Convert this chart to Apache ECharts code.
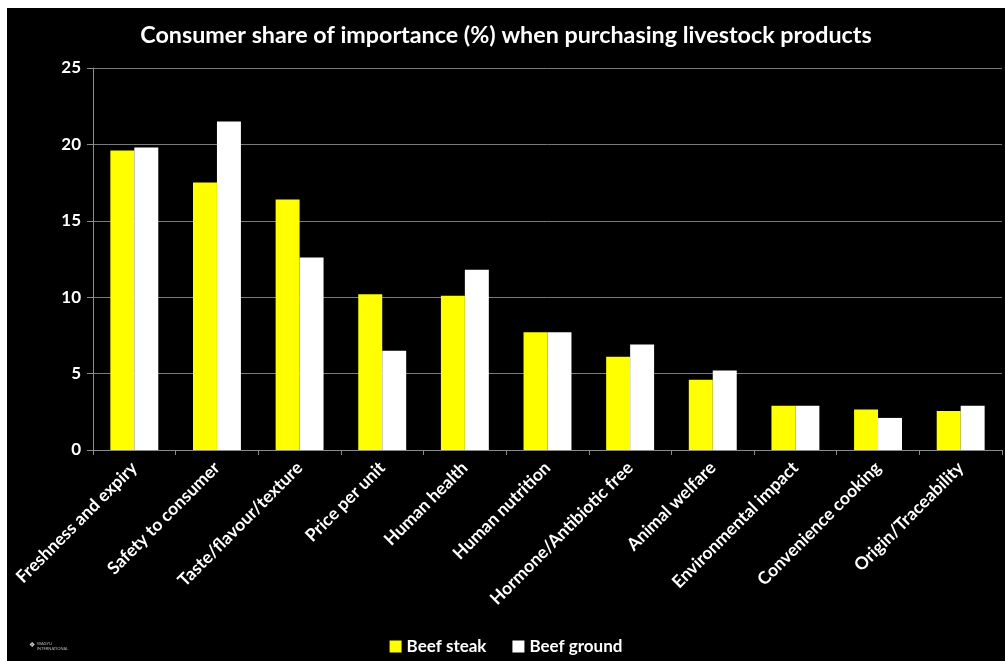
<!DOCTYPE html>
<html>
<head>
<meta charset="utf-8">
<script src="https://cdn.jsdelivr.net/npm/echarts@6/dist/echarts.min.js"></script>
<style>
html,body{margin:0;padding:0;background:#ffffff;}
#chart{position:absolute;left:7px;top:8px;width:998px;height:653px;}
</style>
</head>
<body>
<div id="chart"></div>
<script>
const categories = ["Freshness and expiry","Safety to consumer","Taste/flavour/texture","Price per unit","Human health","Human nutrition","Hormone/Antibiotic free","Animal welfare","Environmental impact","Convenience cooking","Origin/Traceability"];
const beefSteak = [19.6, 17.5, 16.4, 10.2, 10.1, 7.7, 6.1, 4.6, 2.9, 2.65, 2.55];
const beefGround = [19.8, 21.5, 12.6, 6.5, 11.8, 7.7, 6.9, 5.2, 2.9, 2.1, 2.9];
const seriesNames = ["Beef steak", "Beef ground"];
const titleText = "Consumer share of importance (%) when purchasing livestock products";

const font = "Lato, 'Open Sans', sans-serif";
const chart = echarts.init(document.getElementById('chart'));
chart.setOption({
  backgroundColor: '#000000',
  animation: false,
  title: {
    text: titleText,
    left: 'center',
    top: 11,
    textStyle: {color: '#ffffff', fontSize: 23.3, fontWeight: 'bold', fontFamily: font}
  },
  legend: {
    data: seriesNames,
    bottom: 1,
    left: 'center',
    itemWidth: 12,
    itemHeight: 12,
    itemGap: 26,
    icon: 'rect',
    textStyle: {color: '#ffffff', fontSize: 17, fontWeight: 'bold', fontFamily: font}
  },
  grid: {left: 86, top: 60, right: 3, bottom: 211, containLabel: false},
  xAxis: {
    type: 'category',
    data: categories,
    axisLine: {lineStyle: {color: '#8c8c8c', width: 1}},
    axisTick: {show: true, length: 5, lineStyle: {color: '#8c8c8c'}},
    axisLabel: {rotate: 45, color: '#ffffff', fontSize: 17.5, fontWeight: 'bold', fontFamily: font, margin: 15, interval: 0}
  },
  yAxis: {
    type: 'value',
    min: 0, max: 25, interval: 5,
    axisLine: {show: true, lineStyle: {color: '#8c8c8c', width: 1}},
    axisTick: {show: true, length: 6, lineStyle: {color: '#8c8c8c'}},
    splitLine: {lineStyle: {color: '#7a7a7a', width: 1}},
    axisLabel: {color: '#ffffff', fontSize: 17, fontWeight: 'bold', fontFamily: font, margin: 12}
  },
  series: [
    {name: seriesNames[0], type: 'bar', data: beefSteak, barGap: '0%', barCategoryGap: '42%', itemStyle: {color: '#ffff00'}},
    {name: seriesNames[1], type: 'bar', data: beefGround, barGap: '0%', barCategoryGap: '42%', itemStyle: {color: '#ffffff'}}
  ],
  graphic: [
    {type: 'text', left: 22, top: 634, style: {text: '\u2756', fill: '#dddddd', fontSize: 7}},
    {type: 'text', left: 30, top: 633, style: {text: 'WAGYU\nINTERNATIONAL', fill: '#bbbbbb', fontSize: 4, lineHeight: 5, fontFamily: font}}
  ]
});
</script>
</body>
</html>
